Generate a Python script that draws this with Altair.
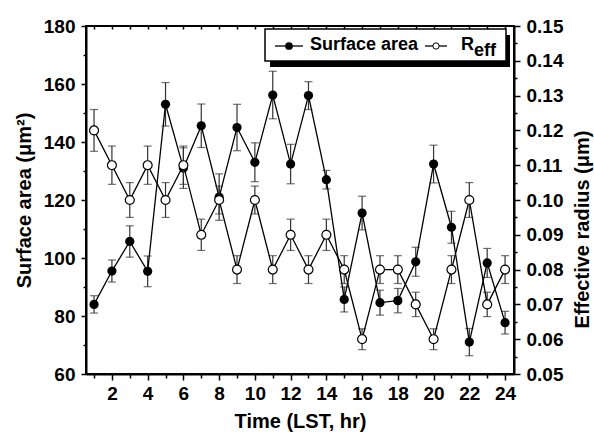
import altair as alt
import pandas as pd

hours = list(range(1, 25))
surface_area = [84, 95.5, 105.7, 95.4, 153, 131, 145.6, 121, 145, 133, 156.2, 132.4,
                156, 127, 85.7, 115.5, 84.6, 85.3, 98.7, 132.4, 110.6, 71, 98.3, 77.7]
surface_err = [3, 3.8, 5.4, 5.3, 7.5, 7, 7.5, 8, 8, 6.7, 8.2, 6.8,
               4.8, 3.2, 4.3, 5.8, 4.3, 4.2, 5, 6.5, 5.5, 4.7, 5, 3.9]
reff = [0.12, 0.11, 0.10, 0.11, 0.10, 0.11, 0.09, 0.10, 0.08, 0.10, 0.08, 0.09,
        0.08, 0.09, 0.08, 0.06, 0.08, 0.08, 0.07, 0.06, 0.08, 0.10, 0.07, 0.08]
reff_err = [0.006, 0.0055, 0.005, 0.0055, 0.005, 0.0055, 0.0045, 0.004, 0.004, 0.004, 0.004, 0.0045,
            0.004, 0.0045, 0.004, 0.003, 0.004, 0.004, 0.0035, 0.003, 0.004, 0.005, 0.0035, 0.004]

left_ticks = [60, 70, 80, 90, 100, 110, 120, 130, 140, 150, 160, 170, 180]
right_ticks = [0.05, 0.055, 0.06, 0.065, 0.07, 0.075, 0.08, 0.085, 0.09, 0.095, 0.10,
               0.105, 0.11, 0.115, 0.12, 0.125, 0.13, 0.135, 0.14, 0.145, 0.15]

df = pd.DataFrame({"hour": hours, "sa": surface_area, "sa_err": surface_err,
                   "reff": reff, "reff_err": reff_err})
df["sa_lo"] = df["sa"] - df["sa_err"]
df["sa_hi"] = df["sa"] + df["sa_err"]
df["r_lo"] = df["reff"] - df["reff_err"]
df["r_hi"] = df["reff"] + df["reff_err"]

FONT = "Liberation Sans"
ERR = "#333333"

x_scale = alt.Scale(domain=[0.55, 24.5], nice=False, zero=False)
x_bottom = alt.Axis(
    orient="bottom", values=hours,
    labelExpr="datum.value % 2 === 0 ? datum.value : ''",
    tickSize={"condition": {"test": "datum.value % 2 === 0", "value": 6}, "value": 4},
    labelPadding=4, title="Time (LST, hr)", titlePadding=8,
)
x_top = alt.Axis(orient="top", values=hours, labels=False, title=None, domain=False,
                 tickSize=3, offset=-3)


def xb():
    return alt.X("hour:Q", scale=x_scale, axis=x_bottom, title="Time (LST, hr)")


def xt():
    return alt.X("hour:Q", scale=x_scale, axis=x_top, title=None)


sa_scale = alt.Scale(domain=[60, 180], nice=False, zero=False)
sa_axis = alt.Axis(
    orient="left", values=left_ticks,
    labelExpr="datum.value % 20 === 0 ? datum.value : ''",
    tickSize={"condition": {"test": "datum.value % 20 === 0", "value": 5}, "value": 3},
    labelPadding=6, titlePadding=9,
)
SA_TITLE = "Surface area (μm²)"


def ysa(field):
    return alt.Y(f"{field}:Q", scale=sa_scale, axis=sa_axis, title=SA_TITLE)


r_scale = alt.Scale(domain=[0.05, 0.15], nice=False, zero=False)
r_axis = alt.Axis(
    orient="right", values=right_ticks,
    labelExpr="round(datum.value*1000) % 10 === 0 ? format(datum.value, '.2f') : ''",
    tickSize={"condition": {"test": "round(datum.value*1000) % 10 === 0", "value": 6}, "value": 3},
    labelPadding=6, titlePadding=10, titleAngle=270, titleBaseline="top", titleY=203,
)
R_TITLE = "Effective radius (μm)"


def yr(field):
    return alt.Y(f"{field}:Q", scale=r_scale, axis=r_axis, title=R_TITLE)


base = alt.Chart(df)

sa_group = alt.layer(
    base.mark_rule(color=ERR, strokeWidth=1.2).encode(x=xb(), y=ysa("sa_lo"), y2="sa_hi"),
    base.mark_tick(orient="horizontal", size=8, thickness=1.2, color=ERR).encode(x=xb(), y=ysa("sa_lo")),
    base.mark_tick(orient="horizontal", size=8, thickness=1.2, color=ERR).encode(x=xb(), y=ysa("sa_hi")),
    base.mark_line(color="black", strokeWidth=1.3).encode(x=xb(), y=ysa("sa")),
    base.mark_point(shape="circle", filled=True, color="black", size=85, opacity=1).encode(x=xb(), y=ysa("sa")),
)

one = pd.DataFrame({"a": [0]})
leg = alt.Chart(one)

r_group = alt.layer(
    base.mark_rule(color=ERR, strokeWidth=1.2).encode(x=xt(), y=yr("r_lo"), y2="r_hi"),
    base.mark_tick(orient="horizontal", size=8, thickness=1.2, color=ERR).encode(x=xt(), y=yr("r_lo")),
    base.mark_tick(orient="horizontal", size=8, thickness=1.2, color=ERR).encode(x=xt(), y=yr("r_hi")),
    base.mark_line(color="black", strokeWidth=1.3).encode(x=xt(), y=yr("reff")),
    base.mark_point(shape="circle", filled=True, fill="white", stroke="black", strokeWidth=1.2,
                    size=80, opacity=1).encode(x=xt(), y=yr("reff")),
    # legend box with shadow
    leg.mark_rect(color="black").encode(x=alt.value(184), x2=alt.value(424), y=alt.value(9), y2=alt.value(41)),
    leg.mark_rect(fill="white", stroke="black", strokeWidth=1.5).encode(
        x=alt.value(179), x2=alt.value(420), y=alt.value(3), y2=alt.value(35)),
    leg.mark_rule(color="black", strokeWidth=1.3).encode(x=alt.value(189), x2=alt.value(217), y=alt.value(20)),
    leg.mark_point(shape="circle", filled=True, color="black", size=60, opacity=1).encode(
        x=alt.value(203), y=alt.value(20)),
    leg.mark_text(text="Surface area", align="left", baseline="alphabetic", font=FONT, fontSize=18,
                  fontWeight="bold", color="black").encode(x=alt.value(224), y=alt.value(23.5)),
    leg.mark_rule(color="black", strokeWidth=1.3).encode(x=alt.value(339), x2=alt.value(361), y=alt.value(20)),
    leg.mark_point(shape="circle", filled=True, fill="white", stroke="black", strokeWidth=1,
                   size=40, opacity=1).encode(x=alt.value(350), y=alt.value(20)),
    leg.mark_text(text="R", align="left", baseline="alphabetic", font=FONT, fontSize=18,
                  fontWeight="bold", color="black").encode(x=alt.value(375), y=alt.value(23.5)),
    leg.mark_text(text="eff", align="left", baseline="alphabetic", font=FONT, fontSize=18,
                  fontWeight="bold", color="black").encode(x=alt.value(388), y=alt.value(29.5)),
)

chart = alt.layer(sa_group, r_group).resolve_scale(y="independent").properties(
    width=428, height=348,
    autosize=alt.AutoSizeParams(type="none"),
    padding={"left": 86, "top": 26, "right": 80, "bottom": 58},
).configure_axis(
    labelFont=FONT, labelFontSize=19, labelFontWeight="bold", labelColor="black",
    titleFont=FONT, titleFontSize=20, titleFontWeight="bold", titleColor="black",
    domainColor="black", domainWidth=2, tickColor="black", tickWidth=1.5, grid=False,
).configure_view(stroke="black", strokeWidth=2)

chart.save("out.html", embed_options={"renderer": "svg", "actions": False})
